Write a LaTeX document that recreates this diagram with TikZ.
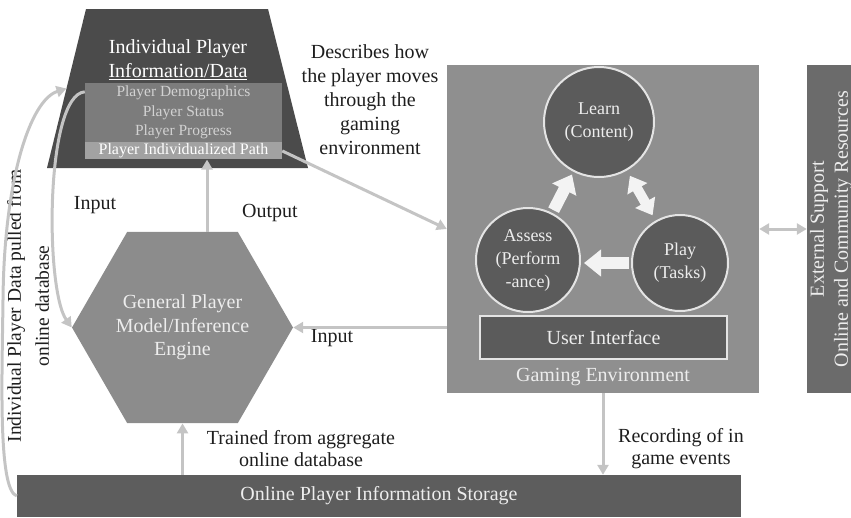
\documentclass[tikz,border=0pt]{standalone}
\usepackage{fontspec}
\setmainfont{Liberation Serif}
\usetikzlibrary{shapes.geometric, positioning, arrows.meta, calc}
\definecolor{trapgray}{HTML}{4B4B4B}
\definecolor{infogray}{HTML}{7C7C7C}
\definecolor{infotext}{HTML}{D2D2D2}
\definecolor{pathgray}{HTML}{A2A2A2}
\definecolor{hexgray}{HTML}{8C8C8C}
\definecolor{gamegray}{HTML}{8F8F8F}
\definecolor{stagegray}{HTML}{5B5B5B}
\definecolor{rimgray}{HTML}{E4E4E4}
\definecolor{extgray}{HTML}{6B6B6B}
\definecolor{storegray}{HTML}{5D5D5D}
\definecolor{linkgray}{HTML}{C4C4C4}
\definecolor{notetext}{HTML}{1E1E1E}
\definecolor{broadwhite}{HTML}{F3F3F3}
\definecolor{softwhite}{HTML}{EDEDED}
\tikzset{every node/.style={ % Sets the properties for each node
inner sep=0pt,
font=\fontsize{20}{24}\selectfont},
block/.style={ % Grey blocks of the model
rectangle, align=center, text=softwhite},
stage/.style={ % The three stages inside the game
circle, fill=stagegray, draw=rimgray, line width=2pt,
text=softwhite, align=center,
font=\fontsize{18}{23}\selectfont},
note/.style={text=notetext, align=center},
link/.style={ % Grey connectors between the parts
draw=linkgray, line width=3pt,
-{Triangle[length=10pt,width=11pt]}},
duallink/.style={link,
{Triangle[length=10pt,width=11pt]}-{Triangle[length=10pt,width=11pt]}},
broad/.style={ % Broad white arrows between the stages
draw=broadwhite, line width=12pt,
-{Triangle[length=17pt,width=26pt]}},
dualbroad/.style={broad, line width=10pt,
{Triangle[length=15pt,width=22pt]}-{Triangle[length=15pt,width=22pt]}}}

\begin{document}
\begin{tikzpicture}[x=1pt, y=-1pt]
    \useasboundingbox (0,0) rectangle (851,517);

    \coordinate (tl) at (86,9);
    \coordinate (tr) at (268,9);
    \coordinate (br) at (308,168);
    \coordinate (bl) at (47,168);
    \coordinate (trapL) at ($(tl)!0.5!(bl)$);
    \fill[trapgray] (tl) -- (tr) -- (br) -- (bl) -- cycle;

    \node[text=white, align=center] (player) at (178,60) {Individual Player\\\underline{Information/Data}};
    \node[block, fill=infogray, text=infotext, minimum width=197pt, minimum height=59pt, font=\fontsize{15.5}{19.5}\selectfont] (info) at (183.5,112.5) {Player Demographics\\Player Status\\Player Progress};
    \node[block, fill=pathgray, text=white, minimum width=197pt, minimum height=17pt, font=\fontsize{16}{18}\selectfont, below=0pt of info] (path) {Player Individualized Path};

    \node[regular polygon, regular polygon sides=6, minimum size=221pt, fill=hexgray, text=softwhite, align=center, font=\fontsize{20}{23.5}\selectfont] (engine) at (182.5,327.5) {General Player\\Model/Inference\\Engine};

    \node[block, fill=gamegray, minimum width=312pt, minimum height=328pt] (game) at (603,229) {};
    \node[stage, minimum size=110pt] (learn) at (599,122) {Learn\\(Content)};
    \node[stage, minimum size=104pt] (assess) at (528,260) {Assess\\(Perform\\-ance)};
    \node[stage, minimum size=96pt] (play) at (680,263) {Play\\(Tasks)};
    \node[block, fill=stagegray, draw=rimgray, line width=1.5pt, minimum width=247pt, minimum height=43pt] (ui) at (603.5,337.5) {User Interface};
    \node[text=softwhite] (gametxt) at (603,377) {Gaming Environment};

    \node[block, fill=extgray, rotate=90, minimum width=328pt, minimum height=48pt] (ext) at (831,229) {External Support\\Online and Community Resources};
    \node[block, fill=storegray, minimum width=724pt, minimum height=42pt] (store) at (379,496) {Online Player Information Storage};

    \node[note, rotate=90, font=\fontsize{19.5}{28}\selectfont] (side) at (28,306) {Individual Player Data pulled from\\online database};
    \node[note] (in1) at (95,205) {Input};
    \node[note] (out) at (270,213) {Output};
    \node[note] (in2) at (332,338) {Input};
    \node[note] (desc) at (370,100) {Describes how\\the player moves\\through the\\gaming\\environment};
    \node[note, font=\fontsize{20}{22}\selectfont] (train) at (301,449) {Trained from aggregate\\online database};
    \node[note, font=\fontsize{20}{22}\selectfont] (rec) at (681,449) {Recording of in\\game events};

    \draw ([xshift=24.5pt]engine.north) edge[link] ([xshift=24.5pt]engine.north |- path.south);
    \draw (path.east) edge[link] (game.west);
    \draw (game.west |- engine.east) edge[link] (engine.east);
    \draw (game.south) edge[link] (game.south |- store.north);
    \draw (store.north -| engine.south) edge[link] (engine.south);
    \draw (game.east) edge[duallink] (ext.north);
    \draw[link] (store.west) .. controls (-2,490) and (2,380) .. (3,300) .. controls (4,180) and (30,100) .. (trapL);
    \draw[link] ([yshift=-9pt]info.north west) .. controls (45,95) and (45,290) .. (engine.west);

    \draw (assess) edge[broad, shorten <=3pt, shorten >=3pt] (learn);
    \draw (learn) edge[dualbroad, shorten <=6pt, shorten >=6pt] (play);
    \draw (play.west) edge[broad, shorten <=2pt, shorten >=3pt] (play.west -| assess.east);

\end{tikzpicture}
\end{document}
